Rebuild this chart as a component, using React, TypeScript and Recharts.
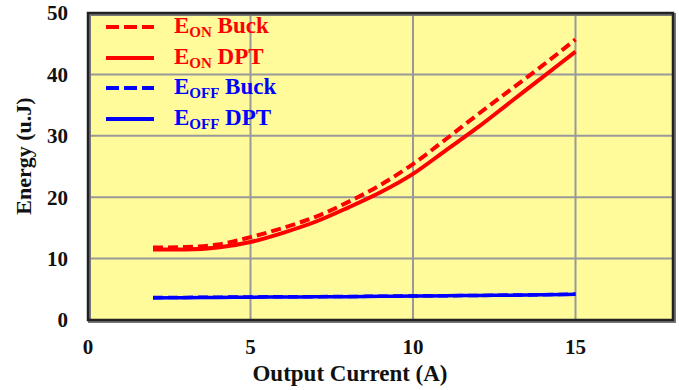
import React from "react";
import {
  LineChart, Line, XAxis, YAxis, CartesianGrid, ReferenceArea, Legend,
} from "recharts";

// Switching energy vs output current, sampled at 1 A steps
const current = [2, 3, 4, 5, 6, 7, 8, 9, 10, 11, 12, 13, 14, 15];
const eonBuck = [11.8, 11.9, 12.3, 13.5, 15.0, 16.8, 19.2, 22.0, 25.4, 29.4, 33.5, 37.5, 41.5, 45.7];
const eonDpt = [11.5, 11.5, 11.8, 12.7, 14.2, 16.0, 18.3, 20.8, 23.8, 27.6, 31.4, 35.5, 39.6, 43.7];
const eoffBuck = [3.65, 3.68, 3.72, 3.75, 3.78, 3.8, 3.83, 3.87, 3.92, 3.96, 4.0, 4.06, 4.12, 4.22];
const eoffDpt = [3.6, 3.63, 3.68, 3.72, 3.75, 3.78, 3.8, 3.85, 3.9, 3.95, 4.0, 4.05, 4.1, 4.2];

const xTicks = [0, 5, 10, 15];
const yTicks = [0, 10, 20, 30, 40, 50];

const legendItems = [
  { main: "E", sub: "ON", rest: " Buck", color: "#ff0000", dash: "13 5" },
  { main: "E", sub: "ON", rest: " DPT", color: "#ff0000", dash: undefined },
  { main: "E", sub: "OFF", rest: " Buck", color: "#0000ff", dash: "13 5" },
  { main: "E", sub: "OFF", rest: " DPT", color: "#0000ff", dash: undefined },
];

const data = current.map((x, i) => ({
  x,
  eonBuck: eonBuck[i],
  eonDpt: eonDpt[i],
  eoffBuck: eoffBuck[i],
  eoffDpt: eoffDpt[i],
}));

const FONT = "'Liberation Serif', 'Times New Roman', serif";
const tickStyle = { fontSize: 21, fontWeight: 700, fill: "#111", fontFamily: FONT };

function LegendBox() {
  return (
    <div style={{ fontFamily: FONT, fontWeight: 700, fontSize: 23 }}>
      {legendItems.map((it, i) => (
        <div key={i} style={{ display: "flex", alignItems: "center", height: 30.5 }}>
          <svg width={50} height={10} style={{ marginRight: 19 }}>
            <line x1={1} y1={5} x2={49} y2={5} stroke={it.color} strokeWidth={4} strokeDasharray={it.dash} />
          </svg>
          <span style={{ color: it.color, whiteSpace: "nowrap" }}>
            {it.main}
            <sub style={{ fontSize: 15, verticalAlign: -4 }}>{it.sub}</sub>
            {it.rest}
          </span>
        </div>
      ))}
    </div>
  );
}

export default function App() {
  return (
    <div style={{ position: "absolute", left: 0, top: 0, width: 679, height: 390, background: "#fff" }}>
      <LineChart width={679} height={390} data={data} margin={{ top: 13, right: 6, bottom: 20, left: 28 }}>
        <CartesianGrid fill="#fffa9a" stroke="#999" strokeWidth={2} />
        <XAxis
          type="number"
          dataKey="x"
          domain={[0, 18]}
          ticks={xTicks}
          height={50}
          tick={tickStyle}
          tickSize={0}
          tickMargin={19}
          axisLine={false}
          tickLine={false}
          label={() => (
            <text x={350} y={381} textAnchor="middle" style={{ ...tickStyle, fontSize: 23 }} fill="#111">
              Output Current (A)
            </text>
          )}
        />
        <YAxis
          type="number"
          domain={[0, 50]}
          ticks={yTicks}
          width={60}
          tick={tickStyle}
          tickSize={0}
          tickMargin={20}
          axisLine={false}
          tickLine={false}
          label={() => (
            <text
              x={31}
              y={156}
              textAnchor="middle"
              transform="rotate(-90 31 156)"
              style={{ ...tickStyle, fontSize: 22 }}
              fill="#111"
            >
              Energy (u.J)
            </text>
          )}
        />
        {/* plot frame with a slight drop shadow on the right and bottom */}
        <ReferenceArea x1={0} x2={18} y1={0} y2={50} fill="none" stroke="#777" strokeWidth={3}
          ifOverflow="visible" transform="translate(1.5 1.5)" />
        <ReferenceArea x1={0} x2={18} y1={0} y2={50} fill="none" stroke="#222" strokeWidth={2.5} ifOverflow="visible" />
        <Line type="monotone" dataKey="eoffBuck" stroke="#0000ff" strokeWidth={3.5} strokeDasharray="10 5" dot={false} isAnimationActive={false} />
        <Line type="monotone" dataKey="eoffDpt" stroke="#0000ff" strokeWidth={3.5} dot={false} isAnimationActive={false} />
        <Line type="monotone" dataKey="eonBuck" stroke="#ff0000" strokeWidth={4} strokeDasharray="10 5" dot={false} isAnimationActive={false} />
        <Line type="monotone" dataKey="eonDpt" stroke="#ff0000" strokeWidth={4} dot={false} isAnimationActive={false} />
        <Legend
          layout="vertical"
          align="center"
          verticalAlign="middle"
          wrapperStyle={{ left: 105, top: 12, width: 220 }}
          content={() => <LegendBox />}
        />
      </LineChart>
    </div>
  );
}
